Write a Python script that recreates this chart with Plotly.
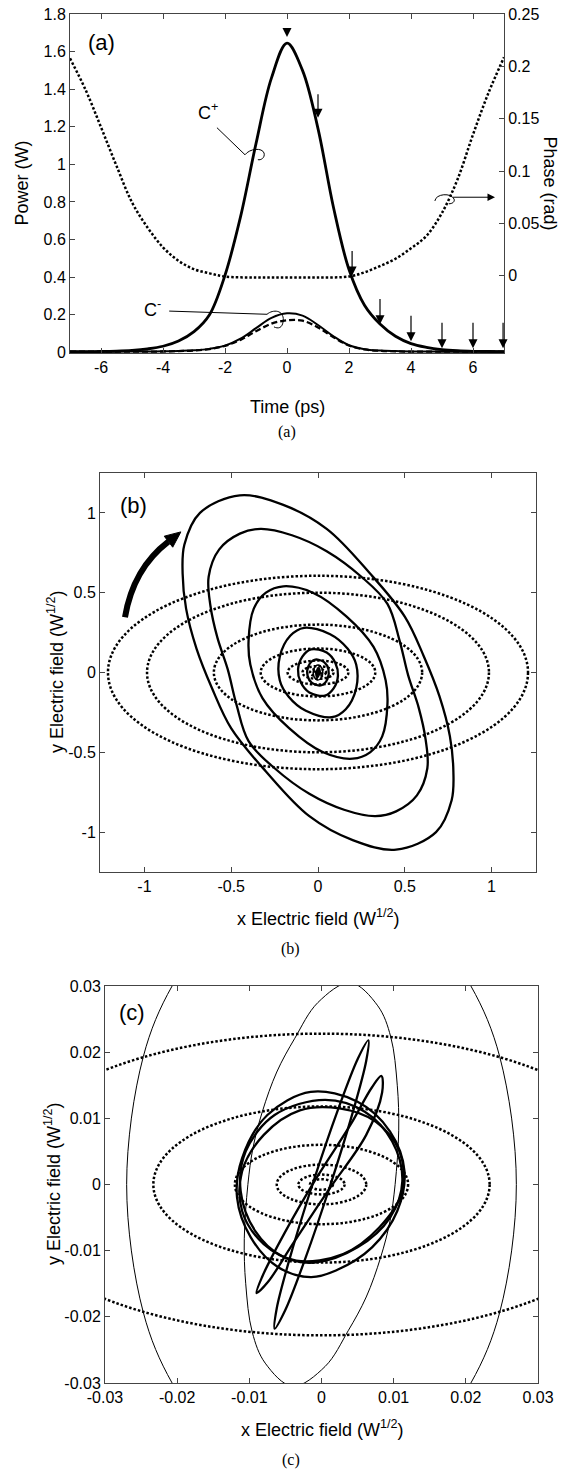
import plotly.graph_objects as go

W, H = 569, 1470

# ---------------- panel (a) data ----------------
t_ps = [-7, -6.5, -6, -5.5, -5, -4.5, -4, -3.5, -3, -2.5, -2, -1.5, -1, -0.5, 0,
        0.5, 1, 1.5, 2, 2.5, 3, 3.5, 4, 4.5, 5, 5.5, 6, 6.5, 7]
cplus_w = [0.003, 0.003, 0.004, 0.006, 0.010, 0.018, 0.032, 0.060, 0.11, 0.20, 0.41, 0.72, 1.11, 1.46, 1.645,
           1.50, 1.19, 0.77, 0.44, 0.25, 0.15, 0.085, 0.046, 0.026, 0.014, 0.008, 0.005, 0.004, 0.003]
cminus_solid_w = [0.003, 0.003, 0.003, 0.003, 0.004, 0.004, 0.005, 0.007, 0.010, 0.018, 0.035, 0.072, 0.128, 0.183, 0.207,
                  0.195, 0.145, 0.085, 0.037, 0.016, 0.009, 0.006, 0.004, 0.004, 0.003, 0.003, 0.003, 0.003, 0.003]
cminus_dash_w = [0.003, 0.003, 0.003, 0.003, 0.003, 0.003, 0.004, 0.006, 0.009, 0.017, 0.034, 0.066, 0.112, 0.152, 0.170,
                 0.168, 0.132, 0.080, 0.036, 0.015, 0.008, 0.005, 0.003, 0.003, 0.003, 0.003, 0.003, 0.003, 0.003]
t_phase = [-7, -6.5, -6, -5.5, -5, -4.5, -4, -3.5, -3, -2.5, -2, -1, 0, 1, 2, 2.5, 3, 3.5, 4, 4.5, 5, 5.5, 6, 6.5, 7]
phase_rad = [0.208, 0.178, 0.142, 0.105, 0.070, 0.046, 0.027, 0.014, 0.006, 0.002, -0.001, -0.002, -0.002, -0.002, -0.001,
             0.003, 0.009, 0.016, 0.026, 0.038, 0.060, 0.092, 0.135, 0.175, 0.209]
arrow_t = [0, 1, 2.1, 3, 4, 5, 6, 6.97]
arrow_tail_w = [1.731, 1.381, 0.547, 0.292, 0.202, 0.165, 0.165, 0.165]
arrow_tip_w = [1.678, 1.248, 0.409, 0.149, 0.058, 0.021, 0.021, 0.021]

# ---------------- panel (b)/(c) data ----------------
# dotted polarisation ellipses (semi-axes)
ell_a = [1.21, 0.985, 0.60, 0.33, 0.175, 0.09, 0.046, 0.0233, 0.012, 0.0062, 0.0032, 0.0016]
ell_b = [0.606, 0.50, 0.30, 0.15, 0.075, 0.04, 0.0228, 0.0118, 0.006, 0.003, 0.0015, 0.0008]

S1 = [(-0.45, 1.11), (-0.20, 1.05), (0.05, 0.90), (0.30, 0.62), (0.50, 0.35), (0.61, 0.10), (0.70, -0.15),
      (0.76, -0.40), (0.78, -0.62), (0.77, -0.80), (0.68, -1.00), (0.45, -1.11), (0.20, -1.05), (-0.05, -0.90),
      (-0.30, -0.62), (-0.50, -0.35), (-0.61, -0.10), (-0.70, 0.15), (-0.76, 0.40), (-0.78, 0.62), (-0.77, 0.80),
      (-0.68, 1.00)]
S2 = [(-0.33, 0.90), (-0.15, 0.86), (0.05, 0.76), (0.25, 0.60), (0.40, 0.43), (0.47, 0.20), (0.52, -0.02),
      (0.58, -0.22), (0.62, -0.42), (0.63, -0.60), (0.57, -0.77), (0.45, -0.87), (0.33, -0.90), (0.15, -0.86),
      (-0.05, -0.76), (-0.25, -0.60), (-0.40, -0.43), (-0.47, -0.20), (-0.52, 0.02), (-0.58, 0.22), (-0.62, 0.42),
      (-0.63, 0.60), (-0.57, 0.77), (-0.45, 0.87)]
S3 = [(-0.20, 0.54), (-0.03, 0.50), (0.165, 0.35), (0.32, 0.16), (0.39, -0.05), (0.40, -0.20), (0.37, -0.40),
      (0.30, -0.50), (0.20, -0.54), (0.03, -0.50), (-0.165, -0.35), (-0.32, -0.16), (-0.39, 0.05), (-0.40, 0.20),
      (-0.37, 0.40), (-0.30, 0.50)]
S4 = [(-0.08, 0.28), (0.07, 0.24), (0.17, 0.15), (0.22, 0.05), (0.22, -0.10), (0.16, -0.23), (0.08, -0.28),
      (-0.07, -0.24), (-0.17, -0.15), (-0.22, -0.05), (-0.22, 0.10), (-0.16, 0.23)]
S5 = [(-0.04, 0.145), (0.05, 0.125), (0.10, 0.06), (0.115, -0.02), (0.09, -0.10), (0.04, -0.145), (-0.05, -0.125),
      (-0.10, -0.06), (-0.115, 0.02), (-0.09, 0.10)]
S6 = [(-0.02, 0.08), (0.035, 0.065), (0.06, 0.02), (0.055, -0.04), (0.02, -0.08), (-0.035, -0.065), (-0.06, -0.02),
      (-0.055, 0.04)]
# thin loops seen in (c)
T1 = [(0, 0.047), (0.0135, 0.0407), (0.0207, 0.03), (0.0247, 0.0193), (0.027, 0), (0.0247, -0.0193), (0.0207, -0.03),
      (0.0135, -0.0407), (0, -0.047), (-0.0135, -0.0407), (-0.0207, -0.03), (-0.0247, -0.0193), (-0.027, 0),
      (-0.0247, 0.0193), (-0.0207, 0.03), (-0.0135, 0.0407)]
T2 = [(0.004, 0.0305), (0.0078, 0.027), (0.0096, 0.0223), (0.0105, 0.015), (0.0107, 0.0082), (0.0102, 0.0),
      (0.0095, -0.0055), (0.0082, -0.011), (0.0062, -0.017), (0.0037, -0.0221), (0.0005, -0.0275), (-0.004, -0.0305),
      (-0.0078, -0.027), (-0.0096, -0.0223), (-0.0105, -0.015), (-0.0107, -0.0082), (-0.0102, 0.0), (-0.0095, 0.0055),
      (-0.0082, 0.011), (-0.0062, 0.017), (-0.0037, 0.0221), (-0.0005, 0.0275)]
# thick loops seen in (c)
E1 = [(-0.0015, 0.014), (0.005, 0.0125), (0.0095, 0.008), (0.0115, 0.002), (0.0105, -0.004), (0.007, -0.0095),
      (0.002, -0.013), (-0.0015, -0.014), (-0.006, -0.0125), (-0.0098, -0.008), (-0.0117, -0.002), (-0.011, 0.004),
      (-0.0075, 0.0105)]
E2 = [(0.0005, 0.0128), (0.006, 0.011), (0.0098, 0.0065), (0.0112, 0.0005), (0.0095, -0.005), (0.005, -0.0095),
      (-0.001, -0.0118), (-0.0055, -0.0108), (-0.0092, -0.007), (-0.0112, -0.001), (-0.0105, 0.005), (-0.0065, 0.0105)]
E3 = [(0.0025, 0.0115), (0.0075, 0.0095), (0.0108, 0.005), (0.0112, -0.001), (0.008, -0.0065), (0.003, -0.0105),
      (-0.0035, -0.0115), (-0.008, -0.009), (-0.011, -0.004), (-0.011, 0.002), (-0.008, 0.0075), (-0.003, 0.0112)]
L1 = [(0.0065, 0.0218), (0.00505, 0.01905), (0.00225, 0.0112), (-0.00115, 0.00034), (-0.00425, -0.0106),
      (-0.0062, -0.0187), (-0.0065, -0.0218), (-0.00505, -0.01905), (-0.00225, -0.0112), (0.00115, -0.00034),
      (0.00425, 0.0106), (0.0062, 0.0187)]
L2 = [(0.0083, 0.0164), (0.0070, 0.0147), (0.0040, 0.0090), (-0.0008, 0.0008), (-0.0052, -0.0075),
      (-0.0082, -0.0139), (-0.0090, -0.0164), (-0.0074, -0.0147), (-0.0040, -0.0090), (0.0010, -0.0008),
      (0.0062, 0.0075), (0.0084, 0.0139)]

b_loops = [S1, S2, S3, S4, S5, S6]
c_thin = [T1, T2]
c_thick = [E1, E2, E3, L1, L2]

b_ticks = [-1, -0.5, 0, 0.5, 1]
b_ticktext = ["-1", "-0.5", "0", "0.5", "1"]
c_ticks = [-0.03, -0.02, -0.01, 0, 0.01, 0.02, 0.03]
c_ticktext = ["-0.03", "-0.02", "-0.01", "0", "0.01", "0.02", "0.03"]
a_xticks = [-6, -4, -2, 0, 2, 4, 6]
a_xtext = ["-6", "-4", "-2", "0", "2", "4", "6"]
a_yticks = [0, 0.2, 0.4, 0.6, 0.8, 1, 1.2, 1.4, 1.6, 1.8]
a_ytext = ["0", "0.2", "0.4", "0.6", "0.8", "1", "1.2", "1.4", "1.6", "1.8"]
a_y2ticks = [0, 0.05, 0.1, 0.15, 0.2, 0.25]
a_y2text = ["0", "0.05", "0.1", "0.15", "0.2", "0.25"]

FONT = "Liberation Sans, Arial, Helvetica, sans-serif"
SERIF = "Liberation Serif, Times New Roman, serif"
DOT = "2.5px,2px"

fig = go.Figure()

# ---- panel (a) traces ----
fig.add_trace(go.Scatter(x=t_phase, y=phase_rad, xaxis="x", yaxis="y2", mode="lines",
                         line=dict(color="black", width=2.5, dash=DOT, shape="spline")))
fig.add_trace(go.Scatter(x=t_ps, y=cplus_w, xaxis="x", yaxis="y", mode="lines",
                         line=dict(color="black", width=2.8, shape="spline")))
fig.add_trace(go.Scatter(x=t_ps, y=cminus_dash_w, xaxis="x", yaxis="y", mode="lines",
                         line=dict(color="black", width=2.3, dash="6px,3px", shape="spline")))
fig.add_trace(go.Scatter(x=t_ps, y=cminus_solid_w, xaxis="x", yaxis="y", mode="lines",
                         line=dict(color="black", width=2.0, shape="spline")))


def add_loop(pts, xa, ya, width):
    xs = [p[0] for p in pts] + [pts[0][0]]
    ys = [p[1] for p in pts] + [pts[0][1]]
    fig.add_trace(go.Scatter(x=xs, y=ys, xaxis=xa, yaxis=ya, mode="lines",
                             line=dict(color="black", width=width, shape="spline", smoothing=1.0)))


for lp in b_loops:
    add_loop(lp, "x2", "y3", 2.3)
for lp in c_thin:
    add_loop(lp, "x2", "y3", 1.5)
    add_loop(lp, "x3", "y4", 1.0)
for lp in c_thick:
    add_loop(lp, "x2", "y3", 1.5)
    add_loop(lp, "x3", "y4", 2.3)

shapes = []
for a, b in zip(ell_a, ell_b):
    for xr, yr in (("x2", "y3"), ("x3", "y4")):
        shapes.append(dict(type="circle", xref=xr, yref=yr, x0=-a, x1=a, y0=-b, y1=b,
                           line=dict(color="black", width=2.5, dash=DOT), layer="above"))

# curved thick arrow in (b)
shapes.append(dict(type="path", xref="x2", yref="y3", path="M -1.112 0.346 Q -1.065 0.651 -0.862 0.82",
                   line=dict(color="black", width=6)))
shapes.append(dict(type="path", xref="x2", yref="y3", path="M -0.790 0.881 L -0.837 0.785 L -0.886 0.854 Z",
                   line=dict(color="black", width=1), fillcolor="black"))

# leader lines and small loops in (a)
lead = dict(color="black", width=1)
shapes += [
    dict(type="path", xref="x", yref="y", path="M -2.26 1.195 L -1.355 1.051", line=lead),
    dict(type="path", xref="x", yref="y",
         path="M -1.355 1.051 C -1.2 1.085 -0.8 1.09 -0.74 1.06 C -0.70 1.035 -0.85 1.02 -0.94 1.025", line=lead),
    dict(type="path", xref="x", yref="y", path="M -3.80 0.219 L -0.645 0.202", line=lead),
    dict(type="path", xref="x", yref="y",
         path="M -0.645 0.202 C -0.45 0.23 -0.1 0.225 -0.12 0.17 C -0.14 0.125 -0.3 0.125 -0.42 0.135", line=lead),
    dict(type="path", xref="x", yref="y",
         path="M 4.77 0.805 C 4.80 0.845 5.30 0.85 5.39 0.815 C 5.42 0.80 5.33 0.79 5.22 0.79", line=lead),
]

annotations = []
for tx, tail, tip in zip(arrow_t, arrow_tail_w, arrow_tip_w):
    annotations.append(dict(x=tx, y=tip, ax=tx, ay=tail, xref="x", yref="y", axref="x", ayref="y",
                            text="", showarrow=True, arrowhead=2, arrowsize=1.5, arrowwidth=1.2,
                            arrowcolor="black"))
annotations.append(dict(x=6.71, y=0.825, ax=5.31, ay=0.825, xref="x", yref="y", axref="x", ayref="y",
                        text="", showarrow=True, arrowhead=2, arrowsize=1.5, arrowwidth=1.0,
                        arrowcolor="black"))


def txt(s, x, y, xref, yref, size, angle=0, font=FONT):
    return dict(text=s, x=x, y=y, xref=xref, yref=yref, showarrow=False, textangle=angle,
                font=dict(family=font, size=size, color="black"), xanchor="center", yanchor="middle")


def px(xp, yp):
    return xp / W, 1 - yp / H


annotations += [
    txt("(a)", -5.97, 1.646, "x", "y", 22),
    txt("C<sup>+</sup>", -2.55, 1.28, "x", "y", 18),
    txt("C<sup>-</sup>", -4.33, 0.235, "x", "y", 18),
    txt("(b)", -1.065, 1.044, "x2", "y3", 22),
    txt("(c)", -0.0263, 0.026, "x3", "y4", 22),
]
for s, (xp, yp), size, ang, fnt in [
    ("Time (ps)", (287, 407), 18, 0, FONT),
    ("Power (W)", (21, 183.5), 18, -90, FONT),
    ("Phase (rad)", (550, 183.5), 18, 90, FONT),
    ("(a)", (287, 432), 16, 0, SERIF),
    ("x Electric field (W<sup>1/2</sup>)", (318, 917), 18, 0, FONT),
    ("y Electric field (W<sup>1/2</sup>)", (56, 672), 18, -90, FONT),
    ("(b)", (290, 949), 16, 0, SERIF),
    ("x Electric field (W<sup>1/2</sup>)", (322, 1428), 18, 0, FONT),
    ("y Electric field (W<sup>1/2</sup>)", (52, 1184), 18, -90, FONT),
    ("(c)", (291, 1460), 16, 0, SERIF),
]:
    x, y = px(xp, yp)
    annotations.append(txt(s, x, y, "paper", "paper", size, ang, fnt))

axcommon = dict(ticks="inside", ticklen=5, tickwidth=1, tickcolor="#444", showline=True, linecolor="#444",
                linewidth=1, showgrid=False, zeroline=False, automargin=False,
                tickfont=dict(family=FONT, size=16, color="black"))


def dom_x(a, b):
    return [a / W, b / W]


def dom_y(top, bot):
    return [1 - bot / H, 1 - top / H]


fig.update_layout(
    template="none",
    width=W, height=H, margin=dict(l=0, r=0, t=0, b=0, pad=0), showlegend=False, autosize=False,
    paper_bgcolor="white", plot_bgcolor="white",
    xaxis=dict(axcommon, domain=dom_x(70, 504), range=[-7, 7], anchor="y", tickvals=a_xticks,
               ticktext=a_xtext, mirror="ticks"),
    yaxis=dict(axcommon, domain=dom_y(14, 353), range=[-0.004, 1.8], anchor="x", tickvals=a_yticks,
               ticktext=a_ytext, mirror=False),
    yaxis2=dict(axcommon, overlaying="y", side="right", anchor="x", range=[-0.0743, 0.2505],
                tickvals=a_y2ticks, ticktext=a_y2text),
    xaxis2=dict(axcommon, domain=dom_x(100, 536), range=[-1.256, 1.256], anchor="y3", tickvals=b_ticks,
                ticktext=b_ticktext, mirror="ticks"),
    yaxis3=dict(axcommon, domain=dom_y(473, 872), range=[-1.25, 1.25], anchor="x2", tickvals=b_ticks,
                ticktext=b_ticktext, mirror="ticks"),
    xaxis3=dict(axcommon, domain=dom_x(105, 538), range=[-0.03, 0.03], anchor="y4", tickvals=c_ticks,
                ticktext=c_ticktext, mirror="ticks"),
    yaxis4=dict(axcommon, domain=dom_y(986, 1383), range=[-0.03, 0.03], anchor="x3", tickvals=c_ticks,
                ticktext=c_ticktext, mirror="ticks"),
    shapes=shapes, annotations=annotations,
)

fig.write_html("out.html", config={"displayModeBar": False},
               post_script="document.body.style.margin='0';document.body.style.overflow='hidden';")
